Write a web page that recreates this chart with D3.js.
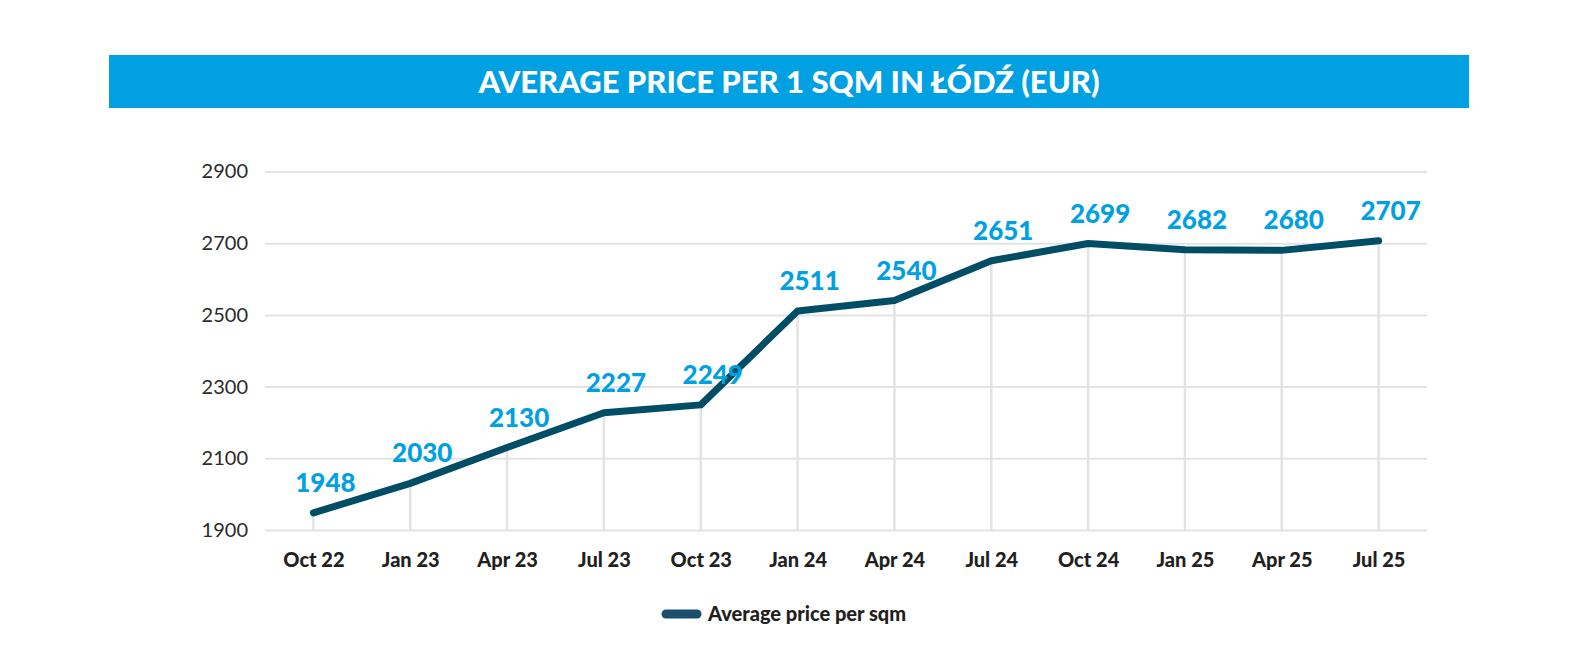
<!DOCTYPE html>
<html>
<head>
<meta charset="utf-8">
<script src="https://cdn.jsdelivr.net/npm/d3@7"></script>
<style>
  html, body { margin: 0; padding: 0; background: #fff; overflow: hidden; }
  svg { display: block; }
  text { font-family: Lato, "Noto Sans", sans-serif; }
</style>
</head>
<body>
<div id="chart"></div>
<script>
// Chart data
const quarters = ["Oct 22", "Jan 23", "Apr 23", "Jul 23", "Oct 23", "Jan 24", "Apr 24", "Jul 24", "Oct 24", "Jan 25", "Apr 25", "Jul 25"];
const prices = [1948, 2030, 2130, 2227, 2249, 2511, 2540, 2651, 2699, 2682, 2680, 2707];
const yTicks = [1900, 2100, 2300, 2500, 2700, 2900];
const title = "AVERAGE PRICE PER 1 SQM IN ŁÓDŹ (EUR)";
const seriesName = "Average price per sqm";

const W = 1578, H = 650;
const plot = { left: 265, right: 1427, top: 171.5, bottom: 530 };

const svg = d3.select("#chart").append("svg")
    .attr("width", W)
    .attr("height", H);

// Title banner
svg.append("rect")
    .attr("x", 109).attr("y", 55)
    .attr("width", 1360).attr("height", 53)
    .attr("fill", "#00a0e3");

svg.append("text")
    .attr("x", 789).attr("y", 93)
    .attr("text-anchor", "middle")
    .attr("fill", "#fff")
    .style("font-size", "31px")
    .style("font-weight", 900)
    .text(title);

// Scales
const x = d3.scalePoint()
    .domain(quarters)
    .range([plot.left, plot.right])
    .padding(0.5);

const y = d3.scaleLinear()
    .domain([1900, 2900])
    .range([plot.bottom, plot.top]);

// Horizontal grid + y labels
const yAxis = svg.append("g")
    .attr("transform", `translate(${plot.left},0)`)
    .call(d3.axisLeft(y).tickValues(yTicks).tickFormat(d3.format("d"))
        .tickSize(-(plot.right - plot.left)).tickPadding(17));
yAxis.select(".domain").remove();
yAxis.selectAll(".tick line").attr("stroke", "#e3e3e3").attr("stroke-width", 2);
yAxis.selectAll(".tick text")
    .attr("fill", "#2b2b2b")
    .style("font-size", "20px")
    .style("font-family", "Lato, sans-serif");

// Drop lines from each point to the baseline
svg.append("g").selectAll("line")
    .data(prices)
    .join("line")
    .attr("x1", (d, i) => x(quarters[i]))
    .attr("x2", (d, i) => x(quarters[i]))
    .attr("y1", d => y(d))
    .attr("y2", plot.bottom)
    .attr("stroke", "#e3e3e3")
    .attr("stroke-width", 2.5);

// X labels
const xAxis = svg.append("g")
    .attr("transform", `translate(0,${plot.bottom})`)
    .call(d3.axisBottom(x).tickSize(0).tickPadding(23));
xAxis.select(".domain").remove();
xAxis.selectAll(".tick text")
    .attr("fill", "#231f20")
    .style("font-size", "20px")
    .style("font-weight", 900)
    .style("font-family", "Lato, sans-serif");

// Price line
const line = d3.line()
    .x((d, i) => x(quarters[i]))
    .y(d => y(d));

svg.append("path")
    .datum(prices)
    .attr("d", line)
    .attr("fill", "none")
    .attr("stroke", "#004d66")
    .attr("stroke-width", 7)
    .attr("stroke-linecap", "round")
    .attr("stroke-linejoin", "round");

// Value labels
svg.append("g").selectAll("text")
    .data(prices)
    .join("text")
    .attr("x", (d, i) => x(quarters[i]) + 12)
    .attr("y", d => y(d) - 21)
    .attr("text-anchor", "middle")
    .attr("fill", "#00a0e3")
    .style("font-size", "26px")
    .style("font-weight", 900)
    .text(d => d);

// Legend
const legend = svg.append("g").attr("transform", "translate(666,614)");
legend.append("line")
    .attr("x1", 0).attr("x2", 31)
    .attr("stroke", "#1c4f6e")
    .attr("stroke-width", 9)
    .attr("stroke-linecap", "round");
legend.append("text")
    .attr("x", 42).attr("y", 7)
    .attr("fill", "#231f20")
    .style("font-size", "20px")
    .style("font-weight", 900)
    .text(seriesName);
</script>
</body>
</html>
